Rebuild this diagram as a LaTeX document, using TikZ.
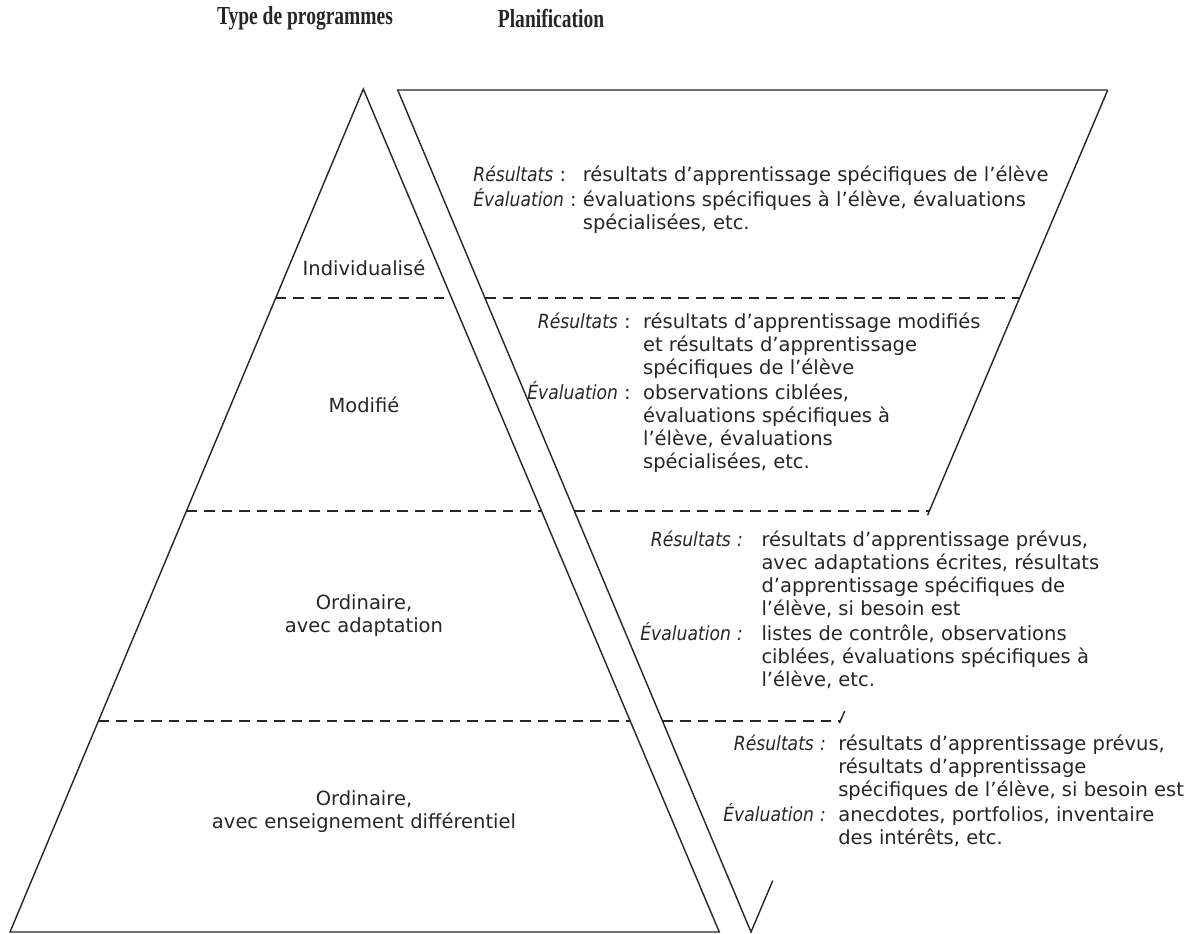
\documentclass[tikz,border=0pt]{standalone}
\usepackage{fontspec}
\setmainfont{DejaVu Sans}
\newfontfamily\titlefont{Liberation Serif}[FakeStretch=0.75]
\newfontfamily\labelfont{DejaVu Sans}[FakeStretch=0.88]
\usetikzlibrary{calc}
\newcommand{\plansize}{\fontsize{11.1}{13.1}\selectfont}
\newcommand{\lab}[1]{{\labelfont\itshape #1}}

\begin{document}
\begin{tikzpicture}[
    x=0.2mm, y=-0.2mm,
    shape line/.style={line width=0.8pt, draw=black!85},
    level sep/.style={line width=0.7pt, dash pattern=on 6pt off 4pt, draw=black!85},
    heading/.style={font=\titlefont\bfseries\fontsize{14.8}{17}\selectfont, text=black!85},
    level/.style={align=center, font=\plansize, text=black!85},
    plan/.style={anchor=west, inner sep=0pt, font=\plansize, text=black!85}
]
\useasboundingbox (0,0) rectangle (1201,934);

% Corners of the two shapes
\coordinate (apex) at (363.3,89);
\coordinate (BL) at (10,932);
\coordinate (BR) at (719.3,932);
\coordinate (TL) at (397.7,90);
\coordinate (TR) at (1107.7,90);
\coordinate (V) at (751,932);

% Headings
\node[heading] (type) at (305,18) {Type de programmes};
\node[heading] (plan) at (551,18) {Planification};

% Pyramid and funnel
\draw[shape line] (apex) -- (BR) -- (BL) -- cycle;
\draw[shape line] (TR) -- ($(TR)!0.505!(V)$);
\draw[shape line] ($(TR)!0.7375!(V)$) -- ($(TR)!0.752!(V)$);
\draw[shape line] ($(TR)!0.939!(V)$) -- (V) -- (TL) -- (TR);

% Level separators
\foreach \y in {298,511,721} {
    \draw[level sep] ($(apex)!{(\y-89)/843}!(BL)$) -- ($(apex)!{(\y-89)/843}!(BR)$);
    \draw[level sep] ($(TL)!{(\y-90)/842}!(V)$) -- ($(TR)!{(\y-90)/842}!(V)$);
}

% Program types
\node[level] (indiv) at (364,268) {Individualisé};
\node[level] (modif) at (364,405) {Modifié};
\node[level] (adapt) at (364,616) {Ordinaire,\\avec adaptation};
\node[level] (diff) at (364,812) {Ordinaire,\\avec enseignement différentiel};

% Planning
\node[plan] (plan1) at (473,201) {\begin{tabular}{@{}l@{\ }l@{}}
\lab{Résultats} :\ \ & résultats d'apprentissage spécifiques de l'élève\\
\lab{Évaluation} : & évaluations spécifiques à l'élève, évaluations\\
 & spécialisées, etc.
\end{tabular}};
\node[plan] (plan2) at (527,394) {\begin{tabular}{@{}r@{\ }l@{\ \ }l@{}}
\lab{Résultats} & : & résultats d'apprentissage modifiés\\
 & & et résultats d'apprentissage\\
 & & spécifiques de l'élève\\
\lab{Évaluation} & : & observations ciblées,\\
 & & évaluations spécifiques à\\
 & & l'élève, évaluations\\
 & & spécialisées, etc.
\end{tabular}};
\node[plan] (plan3) at (640,612) {\begin{tabular}{@{}r@{\ }l@{\ \ \ }l@{}}
\lab{Résultats} & \lab{:} & résultats d'apprentissage prévus,\\
 & & avec adaptations écrites, résultats\\
 & & d'apprentissage spécifiques de\\
 & & l'élève, si besoin est\\
\lab{Évaluation} & \lab{:} & listes de contrôle, observations\\
 & & ciblées, évaluations spécifiques à\\
 & & l'élève, etc.
\end{tabular}};
\node[plan] (plan4) at (723,793) {\begin{tabular}{@{}r@{\ }l@{\ \ }l@{}}
\lab{Résultats} & \lab{:} & résultats d'apprentissage prévus,\\
 & & résultats d'apprentissage\\
 & & spécifiques de l'élève, si besoin est\\
\lab{Évaluation} & \lab{:} & anecdotes, portfolios, inventaire\\
 & & des intérêts, etc.
\end{tabular}};

\end{tikzpicture}
\end{document}
